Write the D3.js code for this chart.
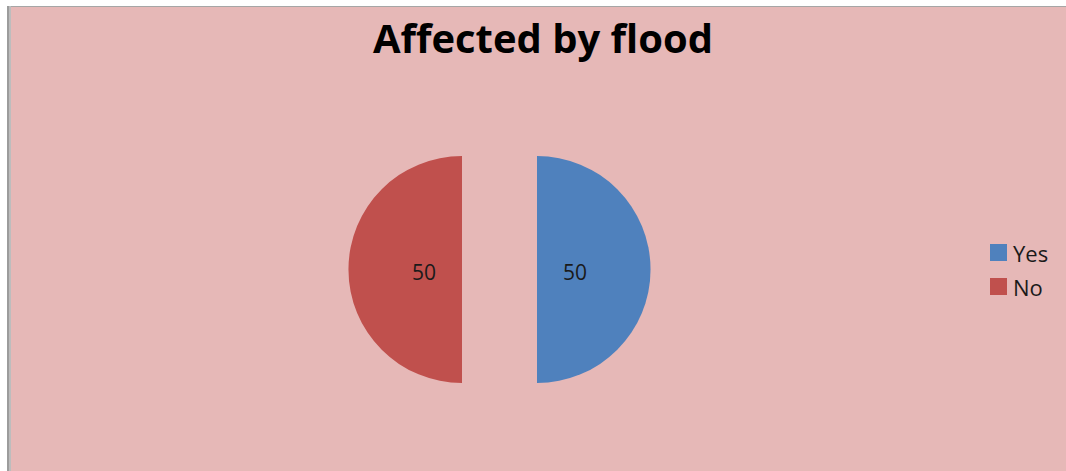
<!DOCTYPE html>
<html>
<head>
<meta charset="utf-8">
<script src="https://cdn.jsdelivr.net/npm/d3@7"></script>
<style>
html,body{margin:0;padding:0;background:#fff;}
svg{display:block;}
</style>
</head>
<body>
<svg id="chart" width="1066" height="471"></svg>
<script>
const title = "Affected by flood";
const categories = ["Yes", "No"];
const values = [50, 50];
const colors = ["#4F81BD", "#C0504D"];

const W = 1066, H = 471;
const svg = d3.select("#chart");

// chart area frame
svg.append("rect").attr("x", 7).attr("y", 6).attr("width", W - 7).attr("height", H - 6).attr("fill", "#E6B8B7");
svg.append("line").attr("x1", 7).attr("x2", W).attr("y1", 6.5).attr("y2", 6.5).attr("stroke", "#A6A6A6").attr("stroke-width", 1);
svg.append("rect").attr("x", 7).attr("y", 6).attr("width", 2).attr("height", H - 6).attr("fill", "#9C9C9C");
svg.append("rect").attr("x", 9).attr("y", 6).attr("width", 2).attr("height", H - 6).attr("fill", "#BDBDBD");

svg.append("text")
  .attr("x", 543).attr("y", 53)
  .attr("text-anchor", "middle")
  .attr("font-family", "'Open Sans', sans-serif")
  .attr("font-weight", "bold")
  .attr("font-size", 39)
  .attr("textLength", 340)
  .attr("lengthAdjust", "spacingAndGlyphs")
  .attr("fill", "#000")
  .text(title);

const cx = 499.5, cy = 269.5, r = 113.5, explode = 37.5;
const pie = d3.pie().sort(null).startAngle(0).endAngle(2 * Math.PI);
const arcs = pie(values);
const arc = d3.arc().innerRadius(0).outerRadius(r);
const labelArc = d3.arc().innerRadius(38).outerRadius(38);

const g = svg.append("g").attr("transform", `translate(${cx},${cy})`);
const slices = g.selectAll("g.slice").data(arcs).enter().append("g")
  .attr("class", "slice")
  .attr("transform", d => {
    const a = (d.startAngle + d.endAngle) / 2;
    return `translate(${Math.sin(a) * explode},${-Math.cos(a) * explode})`;
  });
slices.append("path").attr("d", arc).attr("fill", (d, i) => colors[i]);
slices.append("text")
  .attr("transform", d => `translate(${labelArc.centroid(d)})`)
  .attr("text-anchor", "middle")
  .attr("dy", "0.48em")
  .attr("font-family", "'Open Sans', sans-serif")
  .attr("font-size", 21)
  .attr("fill", "#1a1a1a")
  .text(d => d.data);

const legend = svg.append("g").attr("transform", "translate(990,244)");
const items = legend.selectAll("g").data(categories).enter().append("g")
  .attr("transform", (d, i) => `translate(0,${i * 34})`);
items.append("rect").attr("width", 17).attr("height", 17).attr("fill", (d, i) => colors[i]);
items.append("text")
  .attr("x", 23).attr("y", 18)
  .attr("font-family", "'Open Sans', sans-serif")
  .attr("font-size", 22)
  .attr("fill", "#1a1a1a")
  .text(d => d);
</script>
</body>
</html>
